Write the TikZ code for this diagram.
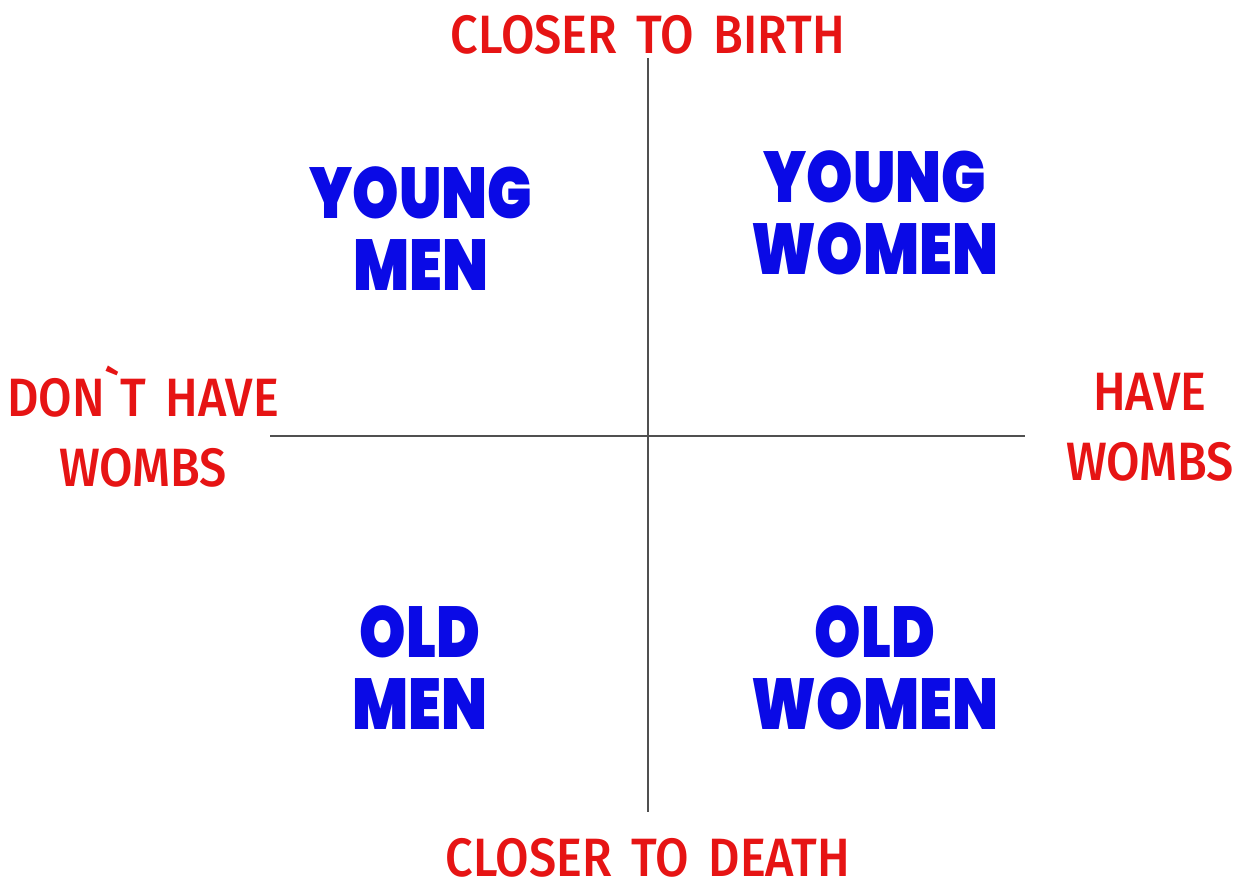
\documentclass[tikz,border=0pt]{standalone}
\usepackage{fontspec}
\usepackage{xcolor}
\usepackage{tikz}
\usetikzlibrary{positioning}

\newfontfamily\handfont{Fira Sans Medium}[FakeStretch=0.9, WordSpace=1.6]
\newfontfamily\blockfont{Poppins Black}[FakeStretch=0.82]
\definecolor{axisred}{RGB}{230,20,20}
\definecolor{quadblue}{RGB}{10,10,230}
\definecolor{axisgray}{RGB}{80,80,80}

\begin{document}
\begin{tikzpicture}[
    x=0.5pt, y=-0.5pt,
    axislabel/.style={text=axisred, align=center, inner sep=0pt, font=\handfont\fontsize{27}{35}\selectfont},
    quadlabel/.style={text=quadblue, align=center, inner sep=0pt, font=\blockfont\fontsize{36}{36}\selectfont},
    axisline/.style={draw=axisgray, line width=0.75pt}
]
    \useasboundingbox (0,0) rectangle (1238,894);

    % Axis ends
    \coordinate (top) at (648,58);
    \coordinate (bottom) at (648,812);
    \coordinate (left) at (270,436);
    \coordinate (right) at (1025,436);

    % Axis labels
    \node[axislabel] (birth) at (648,35) {CLOSER TO BIRTH};
    \node[axislabel] (death) at (648,858) {CLOSER TO DEATH};
    \node[axislabel] (nowomb) at (143,427) {DON`T HAVE\\WOMBS};
    \node[axislabel] (womb) at (1150,427) {HAVE\\WOMBS};

    % Quadrants
    \node[quadlabel] (youngmen) at (421,229) {YOUNG\\MEN};
    \node[quadlabel] (youngwomen) at (875,213) {YOUNG\\WOMEN};
    \node[quadlabel] (oldmen) at (420,668) {OLD\\MEN};
    \node[quadlabel] (oldwomen) at (875,668) {OLD\\WOMEN};

    % Axes
    \draw[axisline] (top) -- (bottom);
    \draw[axisline] (left) -- (right);
\end{tikzpicture}
\end{document}
